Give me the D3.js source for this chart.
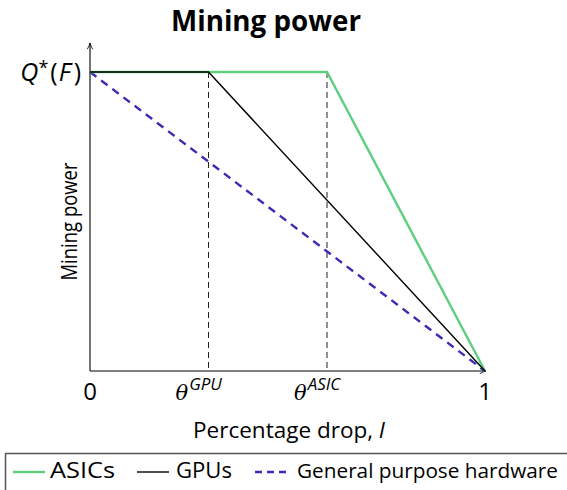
<!DOCTYPE html>
<html>
<head>
<meta charset="utf-8">
<script src="https://cdn.jsdelivr.net/npm/d3@7"></script>
<style>
  html, body { margin: 0; padding: 0; background: #fff; }
  svg { display: block; }
  text { font-family: "Open Sans", "DejaVu Sans", sans-serif; fill: #000; }
</style>
</head>
<body>
<svg id="chart" width="567" height="490"></svg>
<script>
// Threshold positions on the percentage-drop axis
const thetaGPU = 0.3;
const thetaASIC = 0.6;

// Series: percentage drop (x) and mining power relative to Q*(F) (y)
const asicX = [0, thetaASIC, 1];
const asicY = [1, 1, 0];
const gpuX = [0, thetaGPU, 1];
const gpuY = [1, 1, 0];
const generalX = [0, 1];
const generalY = [1, 0];

// Tick labels
const xTickValues = [0, thetaGPU, thetaASIC, 1];
const xTickLabels = ["0", ["θ", "GPU"], ["θ", "ASIC"], "1"];
const yTickValues = [1];

const seriesNames = ["ASICs", "GPUs", "General purpose hardware"];
const seriesColors = ["#5fcf7e", "#000000", "#3b2db3"];

const svg = d3.select("#chart");
const x = d3.scaleLinear().domain([0, 1]).range([90, 485]);
const y = d3.scaleLinear().domain([0, 1]).range([371, 72]);

// Arrow marker for axes
svg.append("defs").append("marker")
  .attr("id", "arrow").attr("viewBox", "0 0 10 10")
  .attr("refX", 9).attr("refY", 5)
  .attr("markerWidth", 7).attr("markerHeight", 7)
  .attr("orient", "auto-start-reverse")
  .append("path").attr("d", "M1,1.5 Q5,4 9,5 Q5,6 1,8.5").attr("fill", "none")
  .attr("stroke", "#000").attr("stroke-width", 1.1);

// Title
svg.append("text").attr("x", 266).attr("y", 31)
  .attr("text-anchor", "middle").attr("font-size", 28).attr("font-weight", "bold")
  .attr("textLength", 190).attr("lengthAdjust", "spacingAndGlyphs")
  .text("Mining power");

// Dashed threshold guides
svg.selectAll("line.guide").data([thetaGPU, thetaASIC]).enter().append("line")
  .attr("class", "guide")
  .attr("x1", d => x(d)).attr("x2", d => x(d))
  .attr("y1", y(1)).attr("y2", y(0))
  .attr("stroke", "#222").attr("stroke-width", 1)
  .attr("stroke-dasharray", "6,4");

// Axes
svg.append("line").attr("x1", x(0)).attr("x2", x(1) + 1)
  .attr("y1", y(0)).attr("y2", y(0))
  .attr("stroke", "#000").attr("stroke-width", 1.1)
  .attr("marker-end", "url(#arrow)");
svg.append("line").attr("x1", x(0)).attr("x2", x(0))
  .attr("y1", y(0)).attr("y2", 43)
  .attr("stroke", "#000").attr("stroke-width", 1.1)
  .attr("marker-end", "url(#arrow)");

// Lines
const line = d3.line().x(d => x(d[0])).y(d => y(d[1]));
const seriesData = [
  d3.zip(asicX, asicY),
  d3.zip(gpuX, gpuY),
  d3.zip(generalX, generalY)
];
// general purpose first, then ASIC, GPU on top of the shared flat segment
svg.append("path").datum(seriesData[2]).attr("d", line)
  .attr("fill", "none").attr("stroke", seriesColors[2]).attr("stroke-width", 2.4)
  .attr("stroke-dasharray", "8,6");
svg.append("path").datum(seriesData[0]).attr("d", line)
  .attr("fill", "none").attr("stroke", seriesColors[0]).attr("stroke-width", 2.4);
svg.append("path").datum(seriesData[1]).attr("d", line)
  .attr("fill", "none").attr("stroke", seriesColors[1]).attr("stroke-width", 1.4);

// X tick labels
xTickValues.forEach((v, i) => {
  const lab = xTickLabels[i];
  if (typeof lab === "string") {
    svg.append("text").attr("x", x(v)).attr("y", 400)
      .attr("text-anchor", "middle").attr("font-size", 24).text(lab);
  } else {
    const t = svg.append("text").attr("x", x(v) - 33).attr("y", 400);
    t.append("tspan").attr("font-family", "'DejaVu Serif', serif")
      .attr("font-style", "italic").attr("font-size", 21).text(lab[0]);
    t.append("tspan").attr("dy", -10).attr("dx", 1).attr("font-style", "italic")
      .attr("font-size", 17).text(lab[1]);
  }
});

// Y tick label Q*(F)
yTickValues.forEach(v => {
  const t = svg.append("text").attr("x", 81).attr("y", y(v) + 9)
    .attr("text-anchor", "end").attr("font-size", 25);
  t.append("tspan").attr("font-style", "italic").text("Q");
  t.append("tspan").attr("dy", -7).attr("font-size", 18).text("*");
  t.append("tspan").attr("dy", 7).attr("dx", 2).text("(");
  t.append("tspan").attr("dx", 1).attr("font-style", "italic").text("F");
  t.append("tspan").attr("dx", 3).text(")");
});

// Axis titles
const xt = svg.append("text").attr("x", 193).attr("y", 438)
  .attr("font-size", 22).attr("textLength", 192).attr("lengthAdjust", "spacingAndGlyphs");
xt.append("tspan").text("Percentage drop, ");
xt.append("tspan").attr("font-style", "italic").text("I");

svg.append("text").attr("transform", `translate(77,${(y(0) + y(1)) / 2}) rotate(-90)`)
  .attr("text-anchor", "middle").attr("font-size", 22)
  .attr("textLength", 118).attr("lengthAdjust", "spacingAndGlyphs")
  .text("Mining power");

// Legend
svg.append("rect").attr("x", 5.5).attr("y", 453.5).attr("width", 600).attr("height", 60)
  .attr("fill", "none").attr("stroke", "#555").attr("stroke-width", 1.5);
const legendX = [13, 137, 255];
const legendTextX = [50, 176, 297];
const legendTextW = [65, 56, 261];
const legendFont = [22, 22, 20.5];
seriesNames.forEach((name, i) => {
  svg.append("line").attr("x1", legendX[i]).attr("x2", legendX[i] + 32)
    .attr("y1", 472).attr("y2", 472)
    .attr("stroke", seriesColors[i])
    .attr("stroke-width", i === 1 ? 1.4 : 2.4)
    .attr("stroke-dasharray", i === 2 ? "7,5" : null);
  svg.append("text").attr("x", legendTextX[i]).attr("y", 478)
    .attr("font-size", legendFont[i]).attr("textLength", legendTextW[i])
    .attr("lengthAdjust", "spacingAndGlyphs").text(name);
});
</script>
</body>
</html>
